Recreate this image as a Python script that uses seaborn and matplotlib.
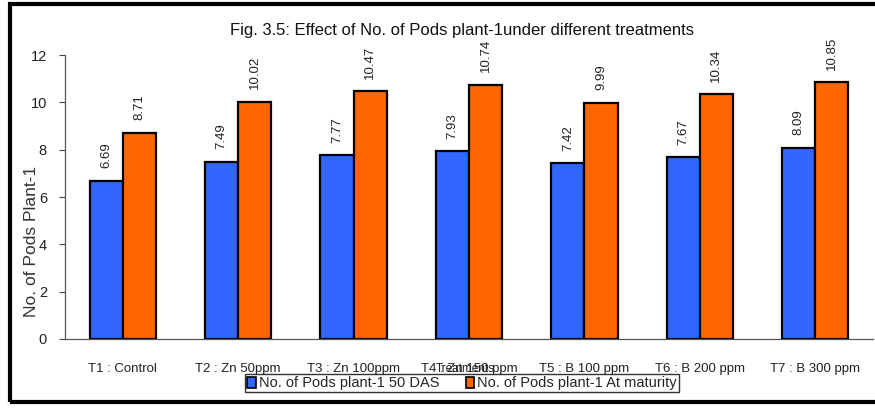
import matplotlib
matplotlib.use("Agg")
import matplotlib.pyplot as plt
from matplotlib.patches import Rectangle
import pandas as pd
import seaborn as sns

categories = ["T1 : Control", "T2 : Zn 50ppm", "T3 : Zn 100ppm", "T4 : Zn 150 ppm",
              "T5 : B 100 ppm", "T6 : B 200 ppm", "T7 : B 300 ppm"]
series_names = ["No. of Pods plant-1 50 DAS", "No. of Pods plant-1 At maturity"]
pods_50das = [6.69, 7.49, 7.77, 7.93, 7.42, 7.67, 8.09]
pods_maturity = [8.71, 10.02, 10.47, 10.74, 9.99, 10.34, 10.85]
y_ticks = [0, 2, 4, 6, 8, 10, 12]

df = pd.DataFrame({
    "Treatments": categories * 2,
    "Series": [series_names[0]] * len(categories) + [series_names[1]] * len(categories),
    "Pods": pods_50das + pods_maturity,
})

sns.set_theme(style="white")
plt.rcParams["font.family"] = ["Liberation Sans", "DejaVu Sans"]

fig = plt.figure(figsize=(8.75, 4.08), dpi=100)
ax = fig.add_axes([65 / 875, 1 - 339 / 408, 808 / 875, 284 / 408])

palette = {series_names[0]: "#3366FF", series_names[1]: "#FF6600"}
sns.barplot(data=df, x="Treatments", y="Pods", hue="Series", order=categories,
            hue_order=series_names, palette=palette, width=0.575, saturation=1,
            edgecolor="black", linewidth=1.6, ax=ax, legend=False)

# value labels, rotated, above each bar
for container, vals in zip(ax.containers, [pods_50das, pods_maturity]):
    for bar, v in zip(container, vals):
        ax.annotate(f"{v:.2f}", (bar.get_x() + bar.get_width() / 2, v),
                    xytext=(0, 9), textcoords="offset points", rotation=90,
                    ha="center", va="bottom", fontsize=9.5, color="#222222",
                    annotation_clip=False, zorder=1)

ax.set_xlim(-0.5, len(categories) - 0.5)
ax.set_ylim(0, 12)
ax.set_yticks(y_ticks)
ax.set_yticklabels([str(t) for t in y_ticks], fontsize=10.5, color="#222222")
ax.set_xticks(range(len(categories)))
ax.set_xticklabels(categories, fontsize=9.5, color="#222222")
ax.set_xticks([i + 0.5 for i in range(-1, len(categories))], minor=True)
ax.tick_params(axis="x", which="major", length=0, pad=17)
ax.tick_params(axis="x", which="minor", length=5, width=0.8, color="#444444", direction="out")
ax.tick_params(axis="y", length=4, width=0.8, color="#444444", direction="out", left=True, pad=9)

for side in ["top", "right"]:
    ax.spines[side].set_visible(False)
for side in ["left", "bottom"]:
    ax.spines[side].set_color("#555555")
    ax.spines[side].set_linewidth(0.9)

ax.set_ylabel("")
ax.set_xlabel("Treatments", fontsize=8.5, color="#222222", va="center")
ax.xaxis.set_label_coords(0.495, -0.106)
fig.text(32 / 875, 1 - 241 / 408, "No. of Pods Plant-1", rotation=90, ha="center",
         va="center", fontsize=12.5, color="#333333")

fig.text(462 / 875, 1 - 30 / 408,
         "Fig. 3.5: Effect of No. of Pods plant-1under different treatments",
         ha="center", va="center", fontsize=12, color="#111111",
         bbox=dict(facecolor="white", edgecolor="none", pad=3), zorder=5)

handles = [Rectangle((0, 0), 1, 1, facecolor=palette[s], edgecolor="black", linewidth=1.2)
           for s in series_names]
leg = fig.legend(handles, series_names, loc="upper left",
                 bbox_to_anchor=(245 / 875, 1 - 374 / 408), ncol=2,
                 prop={"size": 10.5}, frameon=True, fancybox=False,
                 handlelength=0.6, handleheight=0.8, handletextpad=0.2,
                 columnspacing=1.8, borderpad=0.15, borderaxespad=0)
leg.get_frame().set_edgecolor("black")
leg.get_frame().set_linewidth(1.0)

# outer frame
fig.patches.append(Rectangle((9.5 / 875, 1 - 402 / 408), 900 / 875, 398 / 408,
                             transform=fig.transFigure, fill=False,
                             edgecolor="black", linewidth=3.0, zorder=10))

fig.savefig("out.png", dpi=100)
